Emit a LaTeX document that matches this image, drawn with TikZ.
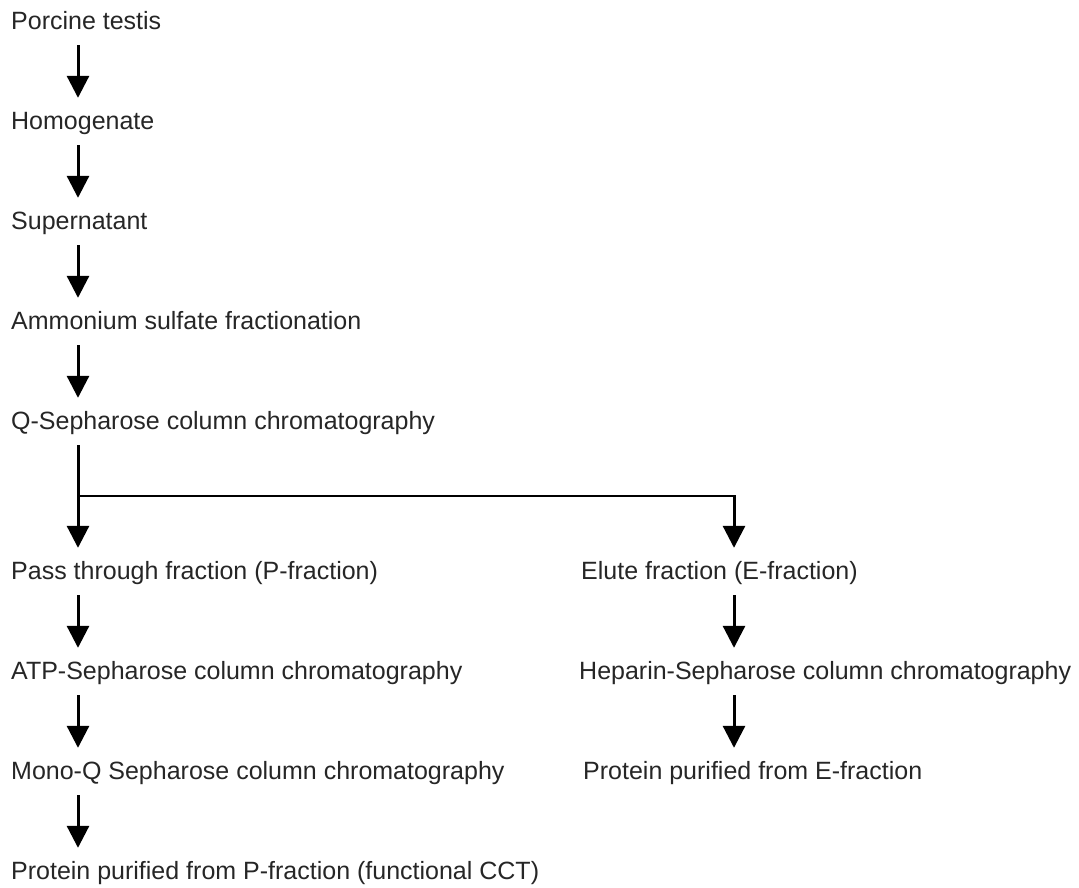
\documentclass[tikz,border=0pt]{standalone}
\usepackage{fontspec}
\setmainfont{Liberation Sans}
\usetikzlibrary{arrows.meta}
\begin{document}
\begin{tikzpicture}[x=1pt,y=-1pt,
  lbl/.style={anchor=base west,inner sep=0pt,text height=18pt,text depth=5pt,
    font=\fontsize{25}{30}\selectfont,text=black!85},
  arr/.style={line width=3pt,-{Triangle[length=22pt,width=22pt]},shorten <=11pt,shorten >=13pt},
  hline/.style={line width=2.2pt}]
\useasboundingbox (0,0) rectangle (1079,887);
\coordinate (ax) at (78,0);
\coordinate (bx) at (734,0);
\node[lbl] (n1) at (11,29) {Porcine testis};
\node[lbl] (n2) at (11,129) {Homogenate};
\node[lbl] (n3) at (11,229) {Supernatant};
\node[lbl] (n4) at (11,329) {Ammonium sulfate fractionation};
\node[lbl] (n5) at (11,429) {Q-Sepharose column chromatography};
\node[lbl] (p1) at (11,579) {Pass through fraction (P-fraction)};
\node[lbl] (p2) at (11,679) {ATP-Sepharose column chromatography};
\node[lbl] (p3) at (11,779) {Mono-Q Sepharose column chromatography};
\node[lbl] (p4) at (11,879) {Protein purified from P-fraction (functional CCT)};
\node[lbl] (e1) at (581,579) {Elute fraction (E-fraction)};
\node[lbl] (e2) at (579,679) {Heparin-Sepharose column chromatography};
\node[lbl] (e3) at (583,779) {Protein purified from E-fraction};
\draw[arr] (n1.south -| ax) -- (n2.north -| ax);
\draw[arr] (n2.south -| ax) -- (n3.north -| ax);
\draw[arr] (n3.south -| ax) -- (n4.north -| ax);
\draw[arr] (n4.south -| ax) -- (n5.north -| ax);
\draw[arr] (n5.south -| ax) -- (p1.north -| ax);
\draw[arr] (p1.south -| ax) -- (p2.north -| ax);
\draw[arr] (p2.south -| ax) -- (p3.north -| ax);
\draw[arr] (p3.south -| ax) -- (p4.north -| ax);
\coordinate (split) at (78,496);
\coordinate (corner) at (734,496);
\draw[hline] (split) -- ([xshift=1.5pt]corner);
\draw[arr,shorten <=-1pt] (corner) -- (e1.north -| bx);
\draw[arr] (e1.south -| bx) -- (e2.north -| bx);
\draw[arr] (e2.south -| bx) -- (e3.north -| bx);
\end{tikzpicture}
\end{document}
